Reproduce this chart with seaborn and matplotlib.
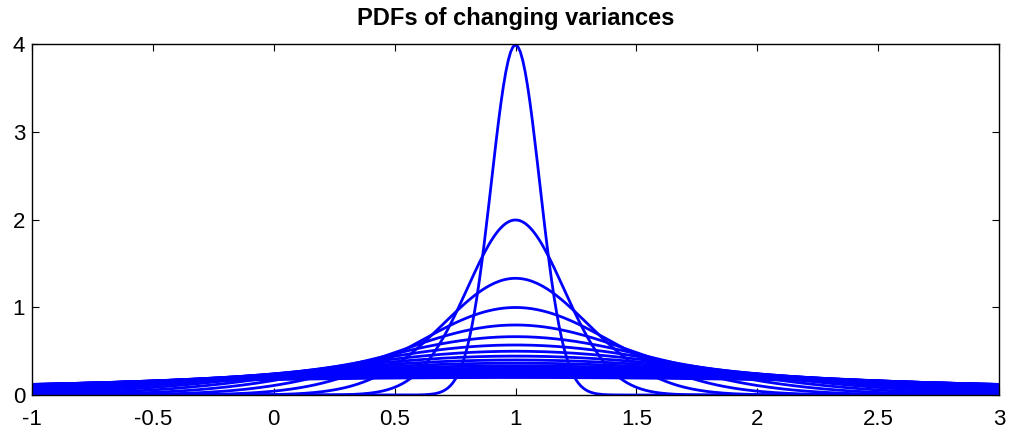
import numpy as np
import pandas as pd
import matplotlib
matplotlib.use("Agg")
import matplotlib.pyplot as plt
import seaborn as sns

# Data
title = "PDFs of changing variances"
mu = 1.0
sigmas = [0.1, 0.2, 0.3, 0.4, 0.5, 0.6, 0.7, 0.8, 0.9, 1.0,
          1.1, 1.2, 1.3, 1.4, 1.5, 1.6, 1.7, 1.8, 1.9, 2.0]
x_ticks = [-1, -0.5, 0, 0.5, 1, 1.5, 2, 2.5, 3]
x_tick_labels = ["-1", "-0.5", "0", "0.5", "1", "1.5", "2", "2.5", "3"]
y_ticks = [0, 1, 2, 3, 4]
x_grid = np.arange(-1.0, 3.0001, 0.01)

rows = []
for s in sigmas:
    pdf = np.exp(-0.5 * ((x_grid - mu) / s) ** 2) / (s * np.sqrt(2 * np.pi))
    rows.append(pd.DataFrame({"x": x_grid, "pdf": pdf, "sigma": s}))
df = pd.concat(rows, ignore_index=True)

sns.set_style("ticks")
plt.rcParams["font.family"] = ["Liberation Sans", "DejaVu Sans"]

fig = plt.figure(figsize=(10.11, 4.33), dpi=100)
ax = fig.add_axes([32 / 1011, 1 - 395 / 433, (999 - 32) / 1011, (395 - 44) / 433])

sns.lineplot(data=df, x="x", y="pdf", hue="sigma", units="sigma", estimator=None,
             palette=["#0000ff"] * len(sigmas), linewidth=2.0, legend=False,
             ax=ax, sort=False)

ax.set_xlim(-1, 3)
ax.set_ylim(0, 4)
ax.set_xticks(x_ticks)
ax.set_xticklabels(x_tick_labels)
ax.set_yticks(y_ticks)
ax.set_xlabel("")
ax.set_ylabel("")
for sp in ax.spines.values():
    sp.set_visible(True)
    sp.set_color("black")
    sp.set_linewidth(1.0)
ax.tick_params(direction="in", length=5, width=0.8, top=True, right=True,
               labelsize=16, colors="black")
ax.tick_params(axis="x", pad=10)
ax.tick_params(axis="y", pad=5)
ax.set_title(title, fontsize=17, fontweight="bold", color="black", pad=13.5)

fig.savefig("out.png", dpi=100)
